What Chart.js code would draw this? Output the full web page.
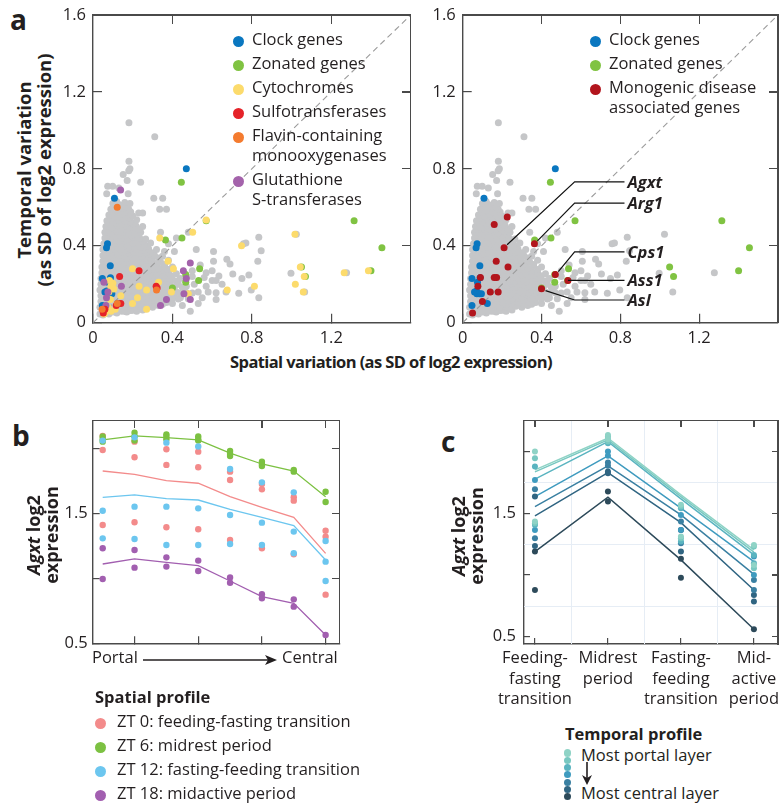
<!DOCTYPE html>
<html>
<head>
<meta charset="utf-8">
<script src="https://cdn.jsdelivr.net/npm/chart.js@4.4.0/dist/chart.umd.min.js"></script>
<style>
  body { margin: 0; background: #fff; }
  #wrap { position: relative; width: 782px; height: 803px; overflow: hidden;
          font-family: 'Open Sans', sans-serif; color: #231f20; }
  #wrap canvas { position: absolute; }
  .txt { position: absolute; white-space: nowrap; line-height: 20px; font-size: 16.5px; }
  .bold { font-weight: 700; }
  .panel { position: absolute; font-weight: 700; font-size: 28px; line-height: 28px; }
  .rot { position: absolute; width: 300px; text-align: center; transform: rotate(-90deg);
         font-weight: 700; white-space: nowrap; }
  .dot { position: absolute; border-radius: 50%; }
  .edge { position: absolute; background: #4a4a4a; z-index: 5; }
</style>
</head>
<body>
<div id="wrap">
  <canvas id="aLeft" width="360" height="350" style="left:60px;top:0px"></canvas>
  <canvas id="aRight" width="362" height="350" style="left:420px;top:0px"></canvas>
  <canvas id="bChart" width="300" height="255" style="left:55px;top:400px"></canvas>
  <canvas id="cChart" width="302" height="310" style="left:480px;top:400px"></canvas>
</div>
<script>
// ---- data: panel a (SD of log2 expression, spatial vs temporal) ----
const grayGenes = [
  [0.035,0.045],[0.05,0.04],[0.065,0.05],[0.08,0.045],[0.10,0.055],[0.12,0.05],[0.145,0.06],[0.17,0.055],[0.20,0.065],
  [0.05,0.06],[0.075,0.062],[0.1,0.058],[0.13,0.062],[0.16,0.06],[0.19,0.064],[0.22,0.06],[0.25,0.066],
  [0.035,0.08],[0.055,0.075],[0.075,0.085],[0.095,0.08],[0.12,0.085],[0.14,0.075],[0.165,0.085],[0.19,0.08],[0.215,0.085],[0.24,0.075],[0.27,0.085],[0.30,0.08],[0.33,0.09],
  [0.05,0.095],[0.07,0.097],[0.09,0.093],[0.115,0.096],[0.14,0.094],[0.17,0.097],[0.195,0.093],[0.22,0.096],[0.25,0.094],[0.28,0.097],[0.31,0.093],[0.35,0.096],
  [0.04,0.11],[0.06,0.105],[0.08,0.115],[0.105,0.11],[0.13,0.105],[0.155,0.115],[0.18,0.11],[0.205,0.105],[0.23,0.115],[0.26,0.11],[0.285,0.105],[0.31,0.115],[0.34,0.11],[0.37,0.105],[0.40,0.10],[0.45,0.09],
  [0.05,0.125],[0.075,0.127],[0.1,0.123],[0.125,0.126],[0.15,0.124],[0.175,0.127],[0.2,0.123],[0.23,0.126],[0.255,0.124],[0.285,0.127],[0.315,0.123],[0.345,0.126],[0.37,0.124],[0.40,0.127],[0.43,0.123],
  [0.04,0.14],[0.065,0.135],[0.09,0.145],[0.115,0.14],[0.14,0.135],[0.165,0.145],[0.19,0.14],[0.22,0.135],[0.245,0.145],[0.27,0.14],[0.30,0.135],[0.33,0.145],[0.355,0.14],[0.385,0.135],[0.41,0.145],[0.44,0.13],[0.48,0.125],[0.55,0.13],
  [0.05,0.155],[0.075,0.157],[0.1,0.153],[0.125,0.156],[0.15,0.154],[0.175,0.157],[0.2,0.153],[0.225,0.156],[0.255,0.154],[0.28,0.157],[0.305,0.153],[0.335,0.156],[0.365,0.154],[0.395,0.157],[0.44,0.153],[0.47,0.156],
  [0.035,0.17],[0.06,0.165],[0.085,0.175],[0.11,0.17],[0.135,0.165],[0.16,0.175],[0.185,0.17],[0.21,0.165],[0.24,0.175],[0.265,0.17],[0.29,0.165],[0.32,0.175],[0.35,0.17],[0.375,0.165],[0.42,0.16],[0.46,0.165],[0.50,0.155],[0.53,0.16],[0.58,0.16],[0.62,0.156],[0.67,0.16],
  [0.05,0.185],[0.075,0.187],[0.1,0.183],[0.13,0.186],[0.155,0.184],[0.185,0.187],[0.21,0.183],[0.24,0.186],[0.265,0.184],[0.295,0.187],[0.32,0.183],[0.35,0.186],[0.375,0.184],[0.41,0.187],[0.45,0.183],
  [0.04,0.2],[0.065,0.195],[0.09,0.205],[0.12,0.2],[0.145,0.195],[0.17,0.205],[0.2,0.2],[0.225,0.195],[0.25,0.205],[0.28,0.2],[0.31,0.195],[0.335,0.205],[0.36,0.2],[0.39,0.195],[0.43,0.2],[0.47,0.19],[0.51,0.2],[0.57,0.19],
  [0.055,0.215],[0.08,0.217],[0.105,0.213],[0.135,0.216],[0.16,0.214],[0.19,0.217],[0.215,0.213],[0.24,0.216],[0.27,0.214],[0.295,0.217],[0.325,0.213],[0.355,0.216],[0.385,0.214],[0.42,0.217],
  [0.04,0.23],[0.07,0.225],[0.095,0.235],[0.12,0.23],[0.15,0.225],[0.175,0.235],[0.2,0.23],[0.23,0.225],[0.255,0.235],[0.285,0.23],[0.31,0.225],[0.34,0.235],[0.37,0.23],[0.40,0.225],[0.44,0.23],[0.50,0.24],[0.56,0.235],[0.60,0.22],[0.634,0.243],
  [0.055,0.245],[0.085,0.247],[0.11,0.243],[0.14,0.246],[0.165,0.244],[0.19,0.247],[0.22,0.243],[0.245,0.246],[0.275,0.244],[0.3,0.247],[0.33,0.243],[0.36,0.246],[0.395,0.244],
  [0.045,0.26],[0.07,0.255],[0.1,0.265],[0.125,0.26],[0.15,0.255],[0.18,0.265],[0.205,0.26],[0.235,0.255],[0.26,0.265],[0.29,0.26],[0.32,0.255],[0.35,0.265],[0.38,0.26],[0.42,0.255],[0.50,0.27],
  [0.06,0.275],[0.085,0.277],[0.115,0.273],[0.14,0.276],[0.17,0.274],[0.195,0.277],[0.225,0.273],[0.25,0.276],[0.28,0.274],[0.31,0.277],[0.345,0.273],[0.38,0.276],
  [0.045,0.29],[0.075,0.285],[0.1,0.295],[0.13,0.29],[0.155,0.285],[0.18,0.295],[0.21,0.29],[0.24,0.285],[0.265,0.295],[0.295,0.29],[0.33,0.285],[0.36,0.295],[0.40,0.29],[0.54,0.30],
  [0.06,0.305],[0.09,0.307],[0.115,0.303],[0.145,0.306],[0.17,0.304],[0.2,0.307],[0.225,0.303],[0.255,0.306],[0.285,0.304],[0.32,0.307],[0.36,0.303],
  [0.05,0.32],[0.075,0.315],[0.105,0.325],[0.13,0.32],[0.16,0.315],[0.185,0.325],[0.215,0.32],[0.24,0.315],[0.27,0.325],[0.30,0.32],[0.34,0.315],[0.38,0.325],
  [0.065,0.335],[0.09,0.337],[0.12,0.333],[0.15,0.336],[0.175,0.334],[0.2,0.337],[0.23,0.333],[0.26,0.336],[0.295,0.334],[0.33,0.337],
  [0.05,0.35],[0.08,0.345],[0.105,0.355],[0.135,0.35],[0.16,0.345],[0.19,0.355],[0.215,0.35],[0.245,0.345],[0.28,0.355],[0.31,0.35],[0.35,0.345],
  [0.065,0.365],[0.095,0.367],[0.125,0.363],[0.15,0.366],[0.18,0.364],[0.205,0.367],[0.235,0.363],[0.265,0.366],[0.30,0.364],
  [0.05,0.38],[0.08,0.375],[0.11,0.385],[0.14,0.38],[0.165,0.375],[0.19,0.385],[0.22,0.38],[0.25,0.375],[0.28,0.385],[0.32,0.38],[0.36,0.37],[0.41,0.37],
  [0.07,0.395],[0.095,0.397],[0.125,0.393],[0.155,0.396],[0.18,0.394],[0.21,0.397],[0.24,0.393],[0.27,0.396],
  [0.055,0.41],[0.085,0.405],[0.11,0.415],[0.14,0.41],[0.17,0.405],[0.2,0.415],[0.23,0.41],[0.26,0.405],[0.29,0.415],[0.38,0.41],
  [0.07,0.425],[0.1,0.427],[0.13,0.423],[0.16,0.426],[0.185,0.424],[0.215,0.427],[0.25,0.423],
  [0.06,0.44],[0.09,0.435],[0.12,0.445],[0.145,0.44],[0.175,0.435],[0.2,0.445],[0.235,0.44],[0.265,0.435],[0.42,0.44],
  [0.075,0.455],[0.105,0.457],[0.135,0.453],[0.165,0.456],[0.195,0.454],[0.225,0.457],
  [0.06,0.47],[0.09,0.465],[0.12,0.475],[0.15,0.47],[0.18,0.465],[0.21,0.475],[0.24,0.47],[0.34,0.47],[0.48,0.47],
  [0.08,0.485],[0.11,0.487],[0.14,0.483],[0.17,0.486],[0.2,0.484],[0.23,0.487],
  [0.065,0.5],[0.095,0.495],[0.125,0.505],[0.155,0.5],[0.185,0.495],[0.215,0.505],[0.25,0.5],
  [0.085,0.515],[0.115,0.517],[0.145,0.513],[0.175,0.516],[0.205,0.514],
  [0.07,0.53],[0.1,0.525],[0.13,0.535],[0.16,0.53],[0.19,0.525],[0.22,0.535],
  [0.095,0.545],[0.125,0.547],[0.155,0.543],[0.185,0.546],
  [0.08,0.56],[0.11,0.555],[0.14,0.565],[0.17,0.56],[0.2,0.555],[0.23,0.57],[0.25,0.57],
  [0.1,0.575],[0.13,0.577],[0.16,0.573],[0.19,0.576],
  [0.09,0.59],[0.12,0.585],[0.15,0.595],[0.18,0.59],[0.336,0.59],[0.37,0.59],
  [0.115,0.605],[0.145,0.607],[0.17,0.603],
  [0.1,0.62],[0.13,0.615],[0.16,0.625],[0.186,0.62],[0.119,0.63],
  [0.069,0.67],[0.177,0.67],[0.306,0.647],[0.351,0.647],[0.074,0.71],[0.099,0.71],[0.13,0.70],[0.24,0.73],
  [0.172,0.74],[0.152,0.77],[0.18,0.79],[0.186,0.80],[0.181,0.84],[0.311,0.967],[0.181,1.04],
  [0.758,0.41],[0.77,0.415],[0.835,0.444],[0.847,0.374],[0.607,0.37],[0.607,0.32],[0.674,0.33],[0.69,0.305],
  [0.83,0.32],[0.62,0.22],[0.704,0.253],[0.785,0.248],[0.734,0.153],[0.797,0.17],[0.835,0.13],[0.997,0.257],
  [1.024,0.46],[1.277,0.26],[1.066,0.16],[0.49,0.06],[0.52,0.38],[0.57,0.26],[0.60,0.27],[0.65,0.20],
  [0.75,0.23],[0.53,0.10],[0.62,0.12]
];
const clockGenes = [[0.47,0.80],[0.108,0.647],[0.073,0.41],[0.068,0.39],[0.087,0.296],[0.047,0.23],[0.088,0.234],
  [0.075,0.21],[0.07,0.165],[0.06,0.16],[0.072,0.15],[0.085,0.15],[0.095,0.15],[0.047,0.09],[0.125,0.10]];
const zonatedGenes = [[0.445,0.73],[0.57,0.53],[1.315,0.53],[1.455,0.39],[0.448,0.44],[0.365,0.43],[0.537,0.28],
  [1.05,0.29],[1.07,0.24],[1.40,0.27],[0.467,0.25],[0.467,0.21],[0.532,0.22],[0.40,0.18]];
const cytochromes = [[0.57,0.534],[0.502,0.47],[0.336,0.44],[0.748,0.40],[1.017,0.46],[1.044,0.29],[1.064,0.24],
  [1.059,0.16],[1.019,0.20],[0.813,0.19],[0.676,0.17],[1.265,0.26],[1.387,0.27],[0.378,0.32],[0.405,0.28],
  [0.199,0.28],[0.232,0.19],[0.27,0.17],[0.33,0.21],[0.224,0.13],[0.27,0.07],[0.199,0.10],[0.395,0.16],
  [0.48,0.15],[0.083,0.22],[0.09,0.19],[0.1,0.205],[0.08,0.16],[0.105,0.175],[0.088,0.12],[0.112,0.07],
  [0.075,0.08],[0.06,0.05],[0.055,0.045],[0.14,0.14],[0.09,0.06]];
const sulfotransferases = [[0.232,0.27],[0.134,0.24],[0.318,0.19],[0.323,0.18],[0.14,0.10],[0.117,0.09],[0.052,0.05],[0.06,0.07]];
const flavinMonooxygenases = [[0.122,0.60],[0.32,0.17],[0.122,0.10],[0.046,0.07]];
const glutathioneTransferases = [[0.139,0.69],[0.49,0.31],[0.455,0.27],[0.47,0.23],[0.458,0.15],[0.49,0.12],
  [0.34,0.09],[0.37,0.12],[0.143,0.19],[0.055,0.21],[0.075,0.16],[0.068,0.13],[0.065,0.09],[0.05,0.06]];
const monogenicGenes = [[0.16,0.51],[0.226,0.55],[0.21,0.39],[0.364,0.41],[0.17,0.32],[0.23,0.29],[0.16,0.235],
  [0.172,0.235],[0.09,0.235],[0.077,0.19],[0.14,0.16],[0.18,0.16],[0.10,0.11],[0.05,0.05],
  [0.47,0.25],[0.534,0.22],[0.40,0.177]];
const geneLabels = ['Agxt', 'Arg1', 'Cps1', 'Ass1', 'Asl'];
const geneLabelPoints = [[0.21,0.39],[0.364,0.41],[0.47,0.25],[0.534,0.22],[0.40,0.177]];
const scatterTicksX = [0, 0.4, 0.8, 1.2];
const scatterTicksY = [0, 0.4, 0.8, 1.2, 1.6];
const diagonal = [[0, 0], [1.6, 1.6]];

// ---- data: panel b (spatial profile of Agxt per ZT) ----
const spatialLayers = [1, 2, 3, 4, 5, 6, 7, 8];
const zt0Mean  = [1.825, 1.80, 1.751, 1.731, 1.628, 1.546, 1.469, 1.192];
const zt6Mean  = [2.064, 2.095, 2.082, 2.064, 1.962, 1.879, 1.825, 1.628];
const zt12Mean = [1.623, 1.641, 1.612, 1.602, 1.530, 1.469, 1.405, 1.141];
const zt18Mean = [1.110, 1.149, 1.123, 1.097, 0.979, 0.859, 0.808, 0.564];
const zt0Reps  = [[2.095,1.987,1.410],[2.051,1.931,1.431],[1.992,1.872,1.392],[1.974,1.854,1.377],[1.820,1.756,1.295],[1.725,1.684,1.231],[1.623,1.597,1.184],[1.366,1.320,0.874]];
const zt6Reps  = [[2.09,2.069,2.051],[2.12,2.09,2.059],[2.107,2.09,2.069],[2.09,2.069,2.059],[1.979,1.956,1.941],[1.897,1.879,1.864],[1.833,1.82],[1.666,1.587]];
const zt12Reps = [[2.059,1.520,1.307],[2.084,1.551,1.302],[2.043,1.551,1.256],[2.013,1.538,1.256],[1.841,1.487,1.264],[1.738,1.428,1.256],[1.661,1.359,1.192],[1.287,1.128,0.979]];
const zt18Reps = [[1.231,0.995],[1.218,1.082],[1.161,1.09],[1.136,1.056],[1.007,0.966],[0.877,0.846],[0.838,0.782],[0.564]];
const layerTickMarks = [2, 4, 6, 8];
const expressionTicks = [0.5, 1.0, 1.5, 2.0];
const expressionLabels = [0.5, 1.5];

// ---- data: panel c (temporal profile per lobule layer, portal -> central) ----
const periods = [1, 2, 3, 4];
const periodLabels = [['Feeding-','fasting','transition'], ['Midrest','period'], ['Fasting-','feeding','transition'], ['Mid-','active','period']];
const layerMeans = [
  [1.851, 2.108, 1.649, 1.203],
  [1.835, 2.095, 1.635, 1.184],
  [1.776, 2.081, 1.616, 1.162],
  [1.635, 1.965, 1.541, 1.108],
  [1.554, 1.884, 1.486, 1.005],
  [1.478, 1.830, 1.424, 0.878],
  [1.189, 1.630, 1.122, 0.559]
];
const layerReps = [
  [[2.0,1.432],[2.135,2.1],[1.568,1.311],[1.243,1.081]],
  [[1.946,1.419],[2.122,2.081],[1.554,1.297],[1.230,1.054]],
  [[1.878,1.405],[2.095,2.068],[1.541,1.270],[1.162,1.095]],
  [[1.770,1.365],[2.0,1.965],[1.486,1.365],[1.149,1.0]],
  [[1.695,1.297],[1.911,1.884],[1.432,1.257],[0.959,0.878]],
  [[1.635,1.235],[1.838,1.824],[1.365,1.189],[0.838,0.784]],
  [[1.189,0.878],[1.676,1.595],[1.130,0.978],[0.559]]
];

// ---- styles ----
const GRAY = '#c5c6c8';
const FRAME = '#4a4a4a';
const colA = { clock: '#0a77c0', zon: '#80c342', cyto: '#fcdb6c', sulfo: '#e52329', flavin: '#f47b2f', gst: '#a463ab', mono: '#b2151d' };
const colB = { zt0: '#f38b8b', zt6: '#7cc142', zt12: '#6cc6ef', zt18: '#a25fb0' };
const colC = ['#8fd3c6', '#78c8c1', '#5ab4c0', '#3f9bbf', '#3a80a2', '#306582', '#2d4a5a'];
const INK = '#231f20';

Chart.defaults.font.family = "'Open Sans', sans-serif";
Chart.defaults.font.size = 16.5;
Chart.defaults.color = INK;
Chart.defaults.animation = false;
Chart.defaults.events = [];
Chart.defaults.plugins.legend.display = false;
Chart.defaults.plugins.tooltip.enabled = false;

const wrap = document.getElementById('wrap');
const xy = arr => arr.map(([x, y]) => ({ x, y }));
const dots = (arr, color, order, r) => ({ data: xy(arr), backgroundColor: color, borderWidth: 0, pointRadius: r || 3.5, order });

function setTicks(vals) { return s => { s.ticks = vals.map(v => ({ value: v })); }; }
const fmt = v => (v === 0 ? '0' : v.toFixed(1));

// left/bottom axis line + inward tick marks (negative tick length points into the plot)
function axis(pos, min, max, marks, len, size, ticks) {
  const horiz = pos === 'top' || pos === 'bottom';
  return {
    type: 'linear', position: pos, min, max, display: true,
    afterBuildTicks: setTicks(marks),
    afterFit: s => {
      if (horiz) s.height = size; else s.width = size;
      s.paddingTop = 0; s.paddingBottom = 0; s.paddingLeft = 0; s.paddingRight = 0;
    },
    grid: { display: true, drawOnChartArea: false, drawTicks: true, tickLength: -len, color: FRAME, lineWidth: 1.2 },
    border: { display: true, color: FRAME, width: 1.4 },
    ticks: ticks ? Object.assign({ display: true, autoSkip: false, maxRotation: 0 }, ticks, { padding: (ticks.padding || 0) + len })
                 : { display: false }
  };
}

// top/right edges of the plot box with inward tick marks, placed from the chart's own scales
function boxEdges(chart, xMarks, yMarks, len) {
  const cv = chart.canvas, ox = cv.offsetLeft, oy = cv.offsetTop;
  const a = chart.chartArea, sx = chart.scales.x, sy = chart.scales.y;
  const L = ox + a.left, T = oy + a.top, R = ox + a.right, B = oy + a.bottom;
  const bar = (x, y, w, h) => {
    const d = document.createElement('div');
    d.className = 'edge';
    Object.assign(d.style, { left: x + 'px', top: y + 'px', width: w + 'px', height: h + 'px' });
    wrap.appendChild(d);
  };
  bar(L - 0.7, T - 0.7, R - L + 1.4, 1.4);
  bar(R - 0.7, T - 0.7, 1.4, B - T + 1.4);
  xMarks.forEach(v => bar(ox + sx.getPixelForValue(v) - 0.6, T, 1.2, len));
  yMarks.forEach(v => bar(R - len, oy + sy.getPixelForValue(v) - 0.6, len, 1.2));
}

// leader lines and gene names in panel a (right)
function notesPlugin(items) {
  return {
    id: 'geneNotes',
    afterDatasetsDraw(chart) {
      const { ctx, scales: { x, y } } = chart;
      ctx.save();
      ctx.strokeStyle = '#111';
      ctx.lineWidth = 1.2;
      ctx.fillStyle = INK;
      ctx.font = "italic 700 16.5px 'Open Sans', sans-serif";
      ctx.textBaseline = 'middle';
      items.forEach(n => {
        const [gx, gy] = geneLabelPoints[n.i];
        const px = x.getPixelForValue(gx), py = y.getPixelForValue(gy);
        const ey = n.elbow ? y.getPixelForValue(n.elbow[1]) : py;
        const ex = n.elbow ? x.getPixelForValue(n.elbow[0]) : px;
        const endX = x.getPixelForValue(n.end);
        ctx.beginPath();
        ctx.moveTo(px + (n.dx || 0), py + (n.dy || 0));
        ctx.lineTo(ex, ey);
        ctx.lineTo(endX, ey);
        ctx.stroke();
        ctx.fillText(geneLabels[n.i], endX + 3, ey + 1);
      });
      ctx.restore();
    }
  };
}

function scatterA(id, datasets, yWidth, padRight, extra) {
  const chart = new Chart(document.getElementById(id), {
    type: 'scatter',
    data: { datasets },
    options: {
      responsive: false, devicePixelRatio: 1,
      layout: { padding: { top: 15, right: padRight, left: 0, bottom: 0 } },
      scales: {
        x: axis('bottom', 0, 1.6, scatterTicksX, 9, 27.3, { padding: 6, callback: fmt }),
        y: axis('left', 0, 1.6, scatterTicksY, 9, yWidth, { padding: 7, callback: fmt })
      }
    },
    plugins: extra ? [extra] : []
  });
  boxEdges(chart, [0.4, 0.8, 1.2], [0.4, 0.8, 1.2], 9);
  return chart;
}

const diag = { type: 'line', data: xy(diagonal), borderColor: '#9b9b9b', borderWidth: 1.1, borderDash: [6, 4], pointRadius: 0, order: 50 };

scatterA('aLeft', [
  dots(grayGenes, GRAY, 60),
  diag,
  dots(zonatedGenes, colA.zon, 20),
  dots(clockGenes, colA.clock, 15),
  dots(cytochromes, colA.cyto, 12),
  dots(glutathioneTransferases, colA.gst, 11),
  dots(sulfotransferases, colA.sulfo, 10),
  dots(flavinMonooxygenases, colA.flavin, 9)
], 33, 9.3, null);

scatterA('aRight', [
  dots(grayGenes, GRAY, 60),
  diag,
  dots(zonatedGenes, colA.zon, 20),
  dots(clockGenes, colA.clock, 15),
  dots(monogenicGenes, colA.mono, 10)
], 42.7, 2, notesPlugin([
  { i: 0, elbow: [0.568, 0.732], end: 0.821, dx: 3, dy: -3 },
  { i: 1, elbow: [0.568, 0.622], end: 0.821, dx: 3, dy: -3 },
  { i: 2, elbow: [0.568, 0.368], end: 0.821, dx: 3, dy: -3 },
  { i: 3, elbow: null, end: 0.821, dx: 5, dy: 0 },
  { i: 4, elbow: [0.568, 0.118], end: 0.821, dx: 4, dy: 2 }
]));

// ---- panel b ----
const repPts = reps => spatialLayers.flatMap((l, i) => reps[i].map(v => [l, v]));
const meanLine = (vals, color, order) => ({ type: 'line', data: xy(spatialLayers.map((l, i) => [l, vals[i]])),
  borderColor: color, borderWidth: 1.3, pointRadius: 0, order });
const exprFmt = v => (expressionLabels.includes(v) ? v.toFixed(1) : '');
const bChart = new Chart(document.getElementById('bChart'), {
  type: 'scatter',
  data: { datasets: [
    dots(repPts(zt0Reps), colB.zt0, 8, 3.2), meanLine(zt0Mean, colB.zt0, 7),
    dots(repPts(zt6Reps), colB.zt6, 6, 3.2), meanLine(zt6Mean, colB.zt6, 5),
    dots(repPts(zt12Reps), colB.zt12, 4, 3.2), meanLine(zt12Mean, colB.zt12, 3),
    dots(repPts(zt18Reps), colB.zt18, 2, 3.2), meanLine(zt18Mean, colB.zt18, 1)
  ] },
  options: {
    responsive: false, devicePixelRatio: 1,
    layout: { padding: { top: 20.7, right: 15.7, left: 0, bottom: 0 } },
    scales: {
      x: axis('bottom', 0.686, 8.43, layerTickMarks, 7, 11.7, null),
      y: axis('left', 0.5, 2.212, expressionTicks, 7, 37.7, { padding: 5, callback: exprFmt })
    }
  }
});
boxEdges(bChart, layerTickMarks, expressionTicks, 7);

// ---- panel c ----
const cSets = [];
layerMeans.forEach((m, k) => {
  cSets.push({ type: 'line', data: xy(periods.map((p, i) => [p, m[i]])), borderColor: colC[k], borderWidth: 1.5, pointRadius: 0, order: 20 + k });
  cSets.push(dots(periods.flatMap((p, i) => layerReps[k][i].map(v => [p, v])), colC[k], 10 + k, 3));
});
const cChart = new Chart(document.getElementById('cChart'), {
  type: 'scatter',
  data: { datasets: cSets },
  options: {
    responsive: false, devicePixelRatio: 1,
    layout: { padding: { top: 20.7, right: 2, left: 0, bottom: 0 } },
    scales: {
      x: axis('bottom', 0.85, 4.33, periods, 6, 66,
              { padding: 4, font: { lineHeight: 1.25 }, callback: v => periodLabels[v - 1] }),
      y: axis('left', 0.44, 2.25, expressionTicks, 6, 44, { padding: 8, callback: exprFmt })
    }
  },
  plugins: [{
    id: 'cGrid',
    beforeDatasetsDraw(chart) {
      const { ctx, chartArea: a, scales: { x, y } } = chart;
      ctx.save();
      ctx.strokeStyle = '#e6edf5';
      ctx.lineWidth = 1;
      ctx.beginPath();
      [1.5, 2.5, 3.5].forEach(v => { const p = Math.round(x.getPixelForValue(v)) + 0.5; ctx.moveTo(p, a.top); ctx.lineTo(p, a.bottom); });
      [0.75, 1.25, 1.75].forEach(v => { const p = Math.round(y.getPixelForValue(v)) + 0.5; ctx.moveTo(a.left, p); ctx.lineTo(a.right, p); });
      ctx.stroke();
      ctx.restore();
    }
  }]
});
boxEdges(cChart, periods, expressionTicks, 6);

// ---- text overlays ----
function addText(html, left, top, cls, extra) {
  const d = document.createElement('div');
  d.className = cls || 'txt';
  d.innerHTML = html;
  d.style.left = left + 'px';
  d.style.top = top + 'px';
  if (extra) Object.assign(d.style, extra);
  wrap.appendChild(d);
  return d;
}
function addDot(cx, cy, r, color) {
  const d = document.createElement('div');
  d.className = 'dot';
  Object.assign(d.style, { left: (cx - r) + 'px', top: (cy - r) + 'px', width: 2 * r + 'px', height: 2 * r + 'px', background: color });
  wrap.appendChild(d);
}
function legend(items, dotX, textX, firstY) {
  let y = firstY;
  items.forEach(([label, color]) => {
    const lines = label.split('\n');
    addDot(dotX, y + 1, 5.5, color);
    addText(lines.join('<br>'), textX, y - 11);
    y += lines.length * 20 + 4;
  });
}

addText('a', 10, 5, 'panel');
addText('b', 12, 421, 'panel');
addText('c', 441, 427, 'panel');

legend([['Clock genes', colA.clock], ['Zonated genes', colA.zon], ['Cytochromes', colA.cyto], ['Sulfotransferases', colA.sulfo],
        ['Flavin-containing\nmonooxygenases', colA.flavin], ['Glutathione\nS-transferases', colA.gst]], 238, 252, 40);
legend([['Clock genes', colA.clock], ['Zonated genes', colA.zon], ['Monogenic disease\nassociated genes', colA.mono]], 595, 609, 40);

addText('Temporal variation<br>(as SD of log2 expression)', 34 - 150, 170 - 20, 'rot', { fontSize: '18.5px', lineHeight: '20px' });
addText('Spatial variation (as SD of log2 expression)', 391 - 250, 351, 'txt bold', { width: '500px', textAlign: 'center', fontSize: '16.5px', letterSpacing: '-0.6px', lineHeight: '22px' });

addText('<i>Agxt</i> log2<br>expression', 42 - 150, 536 - 19, 'rot', { fontSize: '18px', lineHeight: '18px' });
addText('<i>Agxt</i> log2<br>expression', 467 - 150, 537 - 19, 'rot', { fontSize: '18px', lineHeight: '18px' });

addText('Portal', 92, 647);
addText('Central', 282, 647);
addText('<svg width="140" height="12"><line x1="0" y1="6" x2="130" y2="6" stroke="#231f20" stroke-width="1.3"/><path d="M122 1 L134 6 L122 11 L125 6 Z" fill="#231f20"/></svg>', 143, 654, 'txt', { lineHeight: '12px' });

addText('Spatial profile', 95, 687, 'txt bold');
legend([['ZT 0: feeding-fasting transition', colB.zt0], ['ZT 6: midrest period', colB.zt6],
        ['ZT 12: fasting-feeding transition', colB.zt12], ['ZT 18: midactive period', colB.zt18]], 100, 117, 722);

addText('Temporal profile', 565, 724, 'txt bold');
colC.forEach((c, k) => addDot(567.7, 753 + k * 7.3, 3.6, c));
addText('Most portal layer', 581, 745);
addText('Most central layer', 581, 783);
addText('<svg width="12" height="24"><line x1="6" y1="0" x2="6" y2="18" stroke="#231f20" stroke-width="1.6"/><path d="M1 13 L6 23 L11 13 L6 16 Z" fill="#231f20"/></svg>', 581, 762, 'txt', { lineHeight: '24px' });
</script>
</body>
</html>
